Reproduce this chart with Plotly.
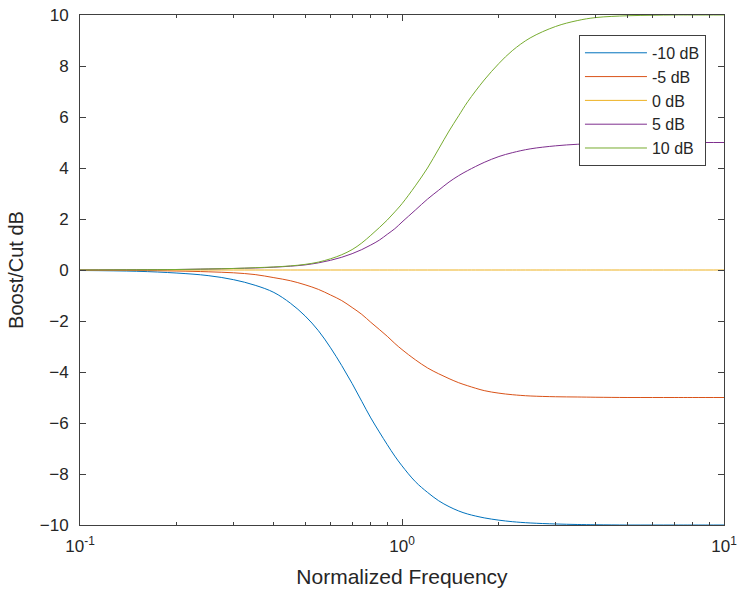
import plotly.graph_objects as go

freq = [0.1, 0.15, 0.2, 0.25, 0.3, 0.35, 0.4, 0.45, 0.5, 0.55, 0.6, 0.65, 0.7, 0.75,
        0.8, 0.85, 0.9, 0.95, 1.0, 1.1, 1.2, 1.3, 1.4, 1.5, 1.6, 1.8, 2.0, 2.2, 2.5,
        3.0, 3.5, 4.0, 5.0, 6.0, 7.0, 8.0, 10.0]

cut10 = [-0.02, -0.05, -0.12, -0.22, -0.38, -0.6, -0.88, -1.3, -1.8, -2.38, -3.05, -3.75,
         -4.45, -5.15, -5.8, -6.35, -6.85, -7.3, -7.68, -8.3, -8.72, -9.05, -9.28, -9.45,
         -9.57, -9.72, -9.81, -9.87, -9.92, -9.96, -9.98, -9.99, -10.0, -10.0, -10.0, -10.0, -10.0]

cut5 = [-0.01, -0.02, -0.04, -0.07, -0.11, -0.18, -0.3, -0.42, -0.58, -0.76, -0.98, -1.2,
        -1.47, -1.74, -2.05, -2.33, -2.6, -2.88, -3.12, -3.52, -3.84, -4.07, -4.26, -4.42,
        -4.54, -4.73, -4.83, -4.89, -4.94, -4.97, -4.98, -4.99, -5.0, -5.0, -5.0, -5.0, -5.0]

flat0 = [0.0] * len(freq)

boost5 = [0.0, 0.01, 0.02, 0.04, 0.06, 0.08, 0.11, 0.15, 0.2, 0.28, 0.38, 0.5, 0.64, 0.8,
          0.98, 1.17, 1.4, 1.62, 1.88, 2.35, 2.78, 3.13, 3.45, 3.7, 3.9, 4.22, 4.45, 4.6,
          4.75, 4.87, 4.93, 4.96, 4.98, 4.99, 5.0, 5.0, 5.0]

boost10 = [0.0, 0.01, 0.02, 0.04, 0.06, 0.09, 0.12, 0.16, 0.22, 0.31, 0.44, 0.6, 0.8, 1.06,
           1.36, 1.66, 1.96, 2.28, 2.6, 3.3, 4.0, 4.75, 5.45, 6.05, 6.6, 7.45, 8.1, 8.6,
           9.1, 9.55, 9.78, 9.9, 9.97, 9.99, 10.0, 10.0, 10.0]

series_names = ["-10 dB", "-5 dB", "0 dB", "5 dB", "10 dB"]
series_values = [cut10, cut5, flat0, boost5, boost10]
colors = ["#0072BD", "#D95319", "#EDB120", "#7E2F8E", "#77AC30"]

x_tickvals = [0.1, 1, 10]
x_ticktext = ["10<sup>-1</sup>", "10<sup>0</sup>", "10<sup>1</sup>"]
y_tickvals = [-10, -8, -6, -4, -2, 0, 2, 4, 6, 8, 10]
minor_vals = [m * d for d in (0.1, 1) for m in range(2, 10)]

font_family = "Liberation Sans, Arial, sans-serif"
axis_color = "#404040"
text_color = "#262626"

fig = go.Figure()
for name, vals, col in zip(series_names, series_values, colors):
    fig.add_trace(go.Scatter(x=freq, y=vals, mode="lines", name=name,
                             line=dict(color=col, width=1, shape="spline", smoothing=1.0)))

fig.update_layout(
    width=741, height=602,
    margin=dict(l=80, r=17, t=15, b=77),
    paper_bgcolor="white", plot_bgcolor="white",
    font=dict(family=font_family, size=17, color=text_color),
    showlegend=True,
    legend=dict(x=0.972, y=0.961, xanchor="right", yanchor="top",
                bordercolor=axis_color, borderwidth=1, bgcolor="white",
                itemwidth=62, font=dict(size=16, color=text_color), tracegroupgap=0),
    xaxis=dict(type="log", range=[-1, 1], tickvals=x_tickvals, ticktext=x_ticktext,
               ticks="inside", ticklen=6, tickcolor=axis_color, showline=True,
               linecolor=axis_color, linewidth=1, mirror="allticks", showgrid=False,
               zeroline=False, automargin=False, ticklabelstandoff=6,
               tickfont=dict(size=17, color=text_color),
               minor=dict(tickvals=minor_vals, ticks="inside", ticklen=3,
                          tickcolor=axis_color, showgrid=False),
               title=dict(text="Normalized Frequency", font=dict(size=21, color=text_color),
                          standoff=13)),
    yaxis=dict(range=[-10, 10], tickvals=y_tickvals, ticks="inside", ticklen=6,
               tickcolor=axis_color, showline=True, linecolor=axis_color, linewidth=1,
               mirror="allticks", showgrid=False, zeroline=False, automargin=False,
               tickfont=dict(size=17, color=text_color), ticklabelstandoff=7,
               title=dict(text="Boost/Cut dB", font=dict(size=20, color=text_color),
                          standoff=10)),
)

fig.write_html("out.html")
